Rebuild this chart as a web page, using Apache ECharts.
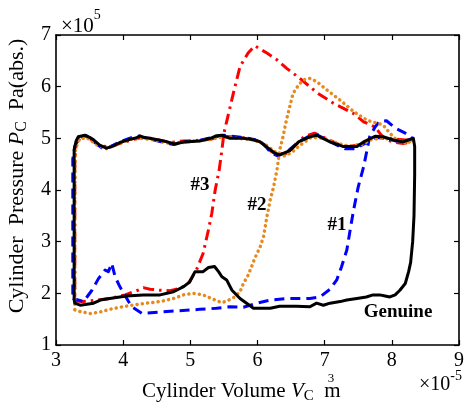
<!DOCTYPE html>
<html><head><meta charset="utf-8">
<script src="https://cdn.jsdelivr.net/npm/echarts@6/dist/echarts.min.js"></script>
<style>html,body{margin:0;padding:0;background:#fff}#c{width:469px;height:407px}</style>
</head><body><div id="c"></div>
<script>
// ---- data (V in 1e-5 m^3, P in 1e5 Pa) ----
const xTicks = [3,4,5,6,7,8,9];
const yTicks = [1,2,3,4,5,6,7];
const seriesNames = ['#3','#1','#2','Genuine'];

const genuine = [[3.27,1.87],[3.27,2.5],[3.27,3.5],[3.27,4.3],[3.27,4.77],[3.30,4.95],[3.33,5.03],[3.43,5.06],[3.50,5.02],[3.56,4.97],[3.65,4.87],[3.75,4.81],[3.85,4.85],[3.95,4.92],[4.10,4.98],[4.20,5.01],[4.25,5.05],[4.30,5.02],[4.40,5.0],[4.60,4.95],[4.77,4.89],[4.90,4.93],[5.14,4.95],[5.30,5.00],[5.39,5.05],[5.47,5.06],[5.59,5.0],[5.79,5.0],[5.95,4.97],[6.04,4.93],[6.16,4.81],[6.25,4.72],[6.33,4.68],[6.48,4.76],[6.61,4.93],[6.78,5.03],[6.88,5.06],[7.08,4.93],[7.28,4.84],[7.48,4.84],[7.58,4.93],[7.75,5.04],[7.87,5.03],[8.02,4.97],[8.17,4.93],[8.32,5.0],[8.34,4.84],[8.34,4.3],[8.33,3.5],[8.31,3.0],[8.28,2.6],[8.25,2.42],[8.20,2.19],[8.12,2.06],[8.05,1.97],[7.97,1.93],[7.90,1.95],[7.82,1.97],[7.72,1.97],[7.62,1.93],[7.48,1.90],[7.33,1.87],[7.23,1.84],[7.08,1.81],[6.98,1.77],[6.88,1.81],[6.78,1.74],[6.58,1.75],[6.33,1.75],[6.19,1.71],[5.94,1.71],[5.74,1.90],[5.62,2.06],[5.54,2.26],[5.47,2.32],[5.42,2.42],[5.36,2.52],[5.27,2.50],[5.19,2.42],[5.07,2.42],[4.99,2.22],[4.90,2.13],[4.75,2.03],[4.55,1.97],[4.30,1.97],[4.05,1.95],[3.80,1.90],[3.66,1.87],[3.56,1.81],[3.36,1.77],[3.28,1.81],[3.27,1.87]];

const case1 = [[3.25,1.9],[3.41,1.84],[3.53,2.05],[3.63,2.28],[3.73,2.45],[3.78,2.42],[3.83,2.58],[3.88,2.32],[3.95,2.13],[4.08,1.84],[4.15,1.72],[4.28,1.61],[4.55,1.64],[4.80,1.66],[5.14,1.69],[5.39,1.71],[5.59,1.74],[5.79,1.73],[5.99,1.81],[6.19,1.87],[6.43,1.90],[6.78,1.90],[6.93,1.93],[7.08,2.08],[7.18,2.26],[7.25,2.51],[7.33,2.84],[7.38,3.23],[7.43,3.61],[7.50,4.06],[7.58,4.45],[7.63,4.77],[7.67,5.03],[7.75,5.22],[7.82,5.33],[7.92,5.34],[8.05,5.2],[8.20,5.1],[8.31,5.0],[8.2,4.95],[8.05,4.95],[7.9,5.0],[7.75,5.02],[7.6,4.9],[7.45,4.8],[7.3,4.8],[7.1,4.92],[6.9,5.06],[6.75,5.03],[6.6,4.92],[6.45,4.75],[6.3,4.66],[6.2,4.72],[6.1,4.88],[5.95,4.98],[5.75,5.02],[5.5,5.06],[5.3,5.01],[5.1,4.95],[4.9,4.93],[4.75,4.88],[4.55,4.94],[4.35,5.0],[4.2,5.05],[4.05,4.98],[3.9,4.9],[3.8,4.83],[3.7,4.8],[3.58,4.92],[3.45,5.05],[3.35,5.02],[3.28,4.85],[3.25,4.6],[3.25,3.5],[3.25,2.5],[3.25,1.9]];

const case3 = [[3.28,1.85],[3.4,1.84],[3.61,1.87],[3.8,1.9],[4.03,1.97],[4.22,2.06],[4.30,2.11],[4.40,2.08],[4.55,2.06],[4.70,2.05],[4.85,2.10],[4.97,2.19],[5.09,2.45],[5.19,2.77],[5.27,3.23],[5.32,3.55],[5.37,4.0],[5.43,4.39],[5.47,4.77],[5.50,5.10],[5.54,5.32],[5.64,5.87],[5.74,6.39],[5.86,6.65],[5.96,6.79],[6.14,6.65],[6.29,6.52],[6.43,6.36],[6.63,6.16],[6.90,5.87],[7.13,5.68],[7.43,5.48],[7.58,5.32],[7.75,5.22],[7.82,5.1],[7.9,4.98],[8.02,4.93],[8.17,4.90],[8.29,4.93],[8.32,4.97],[8.2,4.97],[8.0,4.99],[7.85,5.02],[7.7,5.0],[7.55,4.88],[7.4,4.85],[7.25,4.86],[7.05,4.98],[6.85,5.1],[6.7,5.04],[6.55,4.85],[6.43,4.71],[6.3,4.68],[6.2,4.75],[6.05,4.93],[5.85,5.0],[5.6,5.03],[5.45,5.04],[5.3,4.98],[5.1,4.96],[4.9,4.95],[4.7,4.92],[4.5,4.98],[4.3,5.02],[4.15,4.98],[3.95,4.9],[3.8,4.84],[3.65,4.85],[3.55,4.95],[3.45,5.05],[3.37,5.03],[3.3,4.9],[3.28,4.5],[3.28,3.5],[3.28,2.5],[3.28,1.85]];

const case2 = [[3.28,1.68],[3.38,1.64],[3.51,1.61],[3.66,1.64],[3.80,1.69],[3.95,1.73],[4.13,1.77],[4.35,1.81],[4.55,1.84],[4.75,1.90],[4.90,1.97],[5.04,2.0],[5.19,1.97],[5.37,1.87],[5.47,1.82],[5.56,1.86],[5.66,1.93],[5.74,2.03],[5.79,2.19],[5.86,2.35],[5.91,2.51],[5.96,2.68],[6.04,2.9],[6.09,3.10],[6.14,3.48],[6.19,3.81],[6.24,4.06],[6.29,4.39],[6.33,4.77],[6.38,5.03],[6.43,5.35],[6.48,5.61],[6.53,5.87],[6.61,6.03],[6.68,6.13],[6.78,6.16],[6.88,6.10],[7.03,5.94],[7.23,5.74],[7.43,5.52],[7.63,5.35],[7.87,5.26],[7.97,5.10],[8.07,4.97],[8.22,4.90],[8.32,4.97],[8.2,4.92],[8.0,4.98],[7.85,5.0],[7.7,4.98],[7.55,4.88],[7.35,4.85],[7.2,4.9],[7.0,5.0],[6.8,5.02],[6.65,4.88],[6.5,4.72],[6.38,4.65],[6.25,4.75],[6.1,4.9],[5.9,4.98],[5.7,5.0],[5.5,5.03],[5.3,4.98],[5.1,4.95],[4.9,4.92],[4.7,4.9],[4.5,4.96],[4.3,5.0],[4.1,4.98],[3.9,4.88],[3.75,4.8],[3.6,4.88],[3.45,5.02],[3.35,4.98],[3.29,4.8],[3.28,4.0],[3.28,3.0],[3.28,2.2],[3.28,1.68]];

// ---- rendering ----
const FF = '"Liberation Serif","Times New Roman",serif';
const ctx = document.createElement('canvas').getContext('2d');
function fontStr(p){return (p.italic?'italic ':'')+(p.bold?'bold ':'')+p.size+'px '+FF;}
function meas(p){ctx.font = fontStr(p); return ctx.measureText(p.t).width;}
function runText(pieces, x0, yMid){
  const out=[]; let x=x0;
  for(const p of pieces){
    out.push({type:'text', x:x+(p.dx||0), y:yMid+(p.dy||0),
      style:{text:p.t, font:fontStr(p), fill:'#000', align:'left', verticalAlign:'middle'}});
    if(!p.noAdv) x += meas(p)+(p.dx||0);
  }
  return {els:out, width:x-x0};
}

const chart = echarts.init(document.getElementById('c'), null, {renderer:'canvas'});
const axisCommon = {type:'value', min:3, max:9, interval:1};
const lblStyle = {color:'#000', fontFamily:FF, fontSize:20};
const lineSt = {lineStyle:{color:'#000', width:1.6}};
const tickSt = {show:true, inside:true, length:5, lineStyle:{color:'#000', width:1.2}};

// axis titles
const xName = [{t:'Cylinder Volume ',size:21},{t:'V',size:21,italic:true},{t:'C',size:15,dy:5},{t:'  m',size:21,noAdv:true},{t:'3',size:13,dy:-12,dx:14}];
const xn = runText(xName, 142, 391);
const yName = [{t:'Cylinder  Pressure ',size:22},{t:'P',size:22,italic:true},{t:'C',size:16,dy:5},{t:'  Pa(abs.)',size:22}];
const yTmp = runText(yName, 0, 0);
const yn = runText(yName, -yTmp.width/2, 0);
const ex1 = runText([{t:'\u00d710',size:21},{t:'5',size:14,dy:-11}], 61, 26);
const ex2 = runText([{t:'\u00d710',size:20},{t:'-5',size:14,dy:-9}], 419, 385);

chart.setOption({
  animation:false,
  backgroundColor:'#fff',
  grid:{left:56, right:10, top:35, bottom:62, show:false},
  xAxis:[
    Object.assign({}, axisCommon, {position:'bottom', axisLine:lineSt, axisTick:tickSt,
      axisLabel:Object.assign({margin:6, customValues:xTicks}, lblStyle), splitLine:{show:false}}),
    Object.assign({}, axisCommon, {position:'top', axisLine:lineSt, axisTick:tickSt,
      axisLabel:{show:false}, splitLine:{show:false}})
  ],
  yAxis:[
    {type:'value', min:1, max:7, interval:1, position:'left', axisLine:Object.assign({show:true},lineSt),
      axisTick:tickSt, axisLabel:Object.assign({margin:5, customValues:yTicks}, lblStyle), splitLine:{show:false}},
    {type:'value', min:1, max:7, interval:1, position:'right', axisLine:Object.assign({show:true},lineSt),
      axisTick:tickSt, axisLabel:{show:false}, splitLine:{show:false}}
  ],
  series:[
    {name:seriesNames[0], type:'line', data:case3, showSymbol:false, symbol:'none', z:2,
      lineStyle:{color:'#ff0000', width:3, type:[11,5,2.5,5], cap:'butt', join:'round'}},
    {name:seriesNames[1], type:'line', data:case1, showSymbol:false, symbol:'none', z:3,
      lineStyle:{color:'#0000ff', width:3, type:[10,6], cap:'butt', join:'round'}},
    {name:seriesNames[2], type:'line', data:case2, showSymbol:false, symbol:'none', z:4,
      lineStyle:{color:'#e68a1e', width:3.5, type:[0.1,5.2], cap:'round', join:'round'}},
    {name:seriesNames[3], type:'line', data:genuine, showSymbol:false, symbol:'none', z:5,
      lineStyle:{color:'#000000', width:3, type:'solid', join:'round'}}
  ],
  graphic:[
    ...xn.els,
    {type:'group', x:17, y:176, rotation:Math.PI/2, children:yn.els},
    ...ex1.els, ...ex2.els,
    {type:'text', x:200, y:185, style:{text:'#3', font:'bold 19px '+FF, fill:'#000', align:'center', verticalAlign:'middle'}},
    {type:'text', x:257, y:205, style:{text:'#2', font:'bold 19px '+FF, fill:'#000', align:'center', verticalAlign:'middle'}},
    {type:'text', x:337, y:225, style:{text:'#1', font:'bold 19px '+FF, fill:'#000', align:'center', verticalAlign:'middle'}},
    {type:'text', x:398, y:312, style:{text:'Genuine', font:'bold 19px '+FF, fill:'#000', align:'center', verticalAlign:'middle'}}
  ]
});
</script></body></html>
